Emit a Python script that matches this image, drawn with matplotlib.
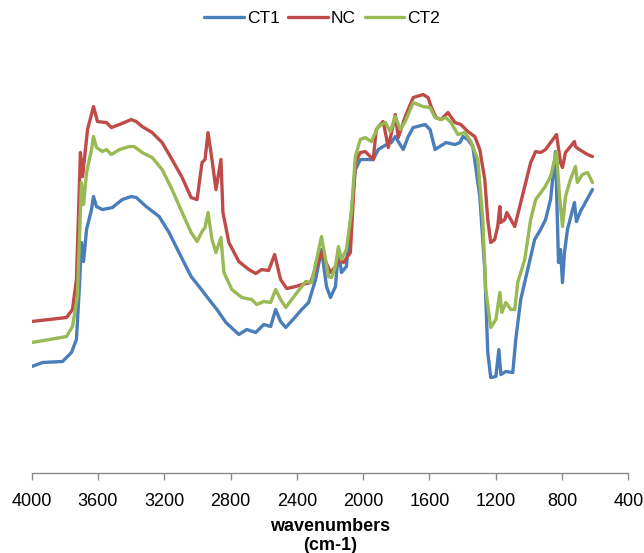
import numpy as np
import matplotlib
matplotlib.use('Agg')
import matplotlib.pyplot as plt

plt.rcParams['font.family'] = ['Liberation Sans', 'DejaVu Sans']

## spectra (wavenumber in cm-1, arbitrary transmittance units)
wn_nc = [4000, 3790, 3754, 3730, 3706, 3693, 3663, 3627, 3603, 3549, 3519, 3471, 3399, 3369,
         3333, 3273, 3213, 3153, 3092, 3038, 3002, 2972, 2954, 2936, 2912, 2888, 2858, 2846,
         2810, 2750, 2690, 2648, 2612, 2570, 2534, 2498, 2461, 2407, 2371, 2317, 2251, 2197,
         2167, 2137, 2119, 2077, 2047, 2017, 1987, 1939, 1921, 1879, 1848, 1806, 1788, 1746,
         1698, 1638, 1608, 1590, 1560, 1530, 1488, 1446, 1410, 1368, 1326, 1296, 1266, 1248,
         1230, 1206, 1188, 1175, 1169, 1145, 1133, 1109, 1085, 1055, 1025, 989, 959, 929, 899,
         869, 833, 809, 797, 779, 725, 719, 695, 646, 616]
nc = [38, 39, 41, 48.5, 80.25, 74.25, 86, 91.75, 88, 87.75, 86.5, 87.25, 88.5, 88,
      86.75, 85.25, 82.75, 78.5, 74, 69, 68.5, 77.75, 78.5, 85.25, 78.5, 71, 78.5, 65.25,
      57.75, 53, 51, 50, 51, 50.75, 54.75, 48.5, 46.25, 46.75, 47.25, 47.75, 55.25, 50.25,
      51.75, 53.5, 52.75, 55.25, 77.75, 80.25, 80.5, 78.5, 86, 88, 81.5, 89.75, 84, 89.25,
      94, 94.75, 94, 91.75, 89, 88.5, 90.25, 87.75, 87.25, 85.5, 84.25, 81, 73.5, 63.5,
      57.75, 58.5, 61.75, 66.75, 62.75, 63.5, 65.25, 63.5, 61.75, 66.75, 71.75, 77.75, 80.5, 80.25, 81,
      82.75, 84.75, 77.75, 76.5, 80.25, 83, 81.75, 81, 79.75, 79.25]

wn_ct1 = [4000, 3934, 3814, 3760, 3730, 3712, 3700, 3687, 3669, 3639, 3627, 3609, 3573, 3513,
          3453, 3399, 3369, 3309, 3231, 3171, 3099, 3038, 2990, 2930, 2882, 2828, 2750, 2702,
          2648, 2600, 2558, 2528, 2498, 2467, 2407, 2371, 2329, 2287, 2251, 2221, 2197, 2167,
          2149, 2131, 2101, 2071, 2047, 2017, 1939, 1909, 1860, 1830, 1806, 1788, 1758, 1728,
          1698, 1626, 1596, 1566, 1548, 1500, 1446, 1416, 1398, 1368, 1338, 1296, 1266, 1248,
          1230, 1199, 1181, 1169, 1139, 1097, 1079, 1049, 1007, 965, 929, 899, 869, 839, 821,
          809, 797, 785, 767, 725, 713, 689, 616]
ct1 = [26.75, 27.75, 28, 30.25, 33.5, 46.75, 57.75, 53, 61, 66, 69.25, 66.75, 66, 66.5,
       68.5, 69.25, 69, 66.75, 64.25, 60.25, 54.25, 49.25, 46.75, 43.5, 41, 37.75, 34.75, 36,
       35.25, 37.25, 36.75, 41, 38, 36.5, 39.25, 41, 42.75, 48.5, 56, 46.75, 44, 46.75,
       56, 50.25, 51.75, 65.25, 76, 78.5, 78.5, 81, 82.25, 82.75, 84.25, 83, 81, 84.25,
       86.5, 87.25, 86, 81, 81.5, 82.75, 82.25, 82.75, 84.25, 83.5, 81.75, 69.25, 51, 30.25,
       24, 24.25, 31, 24.75, 25.5, 25.25, 33.5, 43.5, 51, 58.5, 61, 63.5, 68.5, 80.5, 52.75,
       56, 47.75, 55.25, 61, 67.75, 63, 65.5, 71]

wn_ct2 = [4000, 3892, 3790, 3754, 3724, 3700, 3687, 3669, 3639, 3627, 3609, 3573, 3549, 3519,
          3471, 3411, 3381, 3333, 3273, 3213, 3153, 3092, 3038, 3002, 2972, 2954, 2936, 2912,
          2888, 2858, 2840, 2792, 2732, 2672, 2642, 2600, 2558, 2528, 2498, 2467, 2431, 2371,
          2347, 2311, 2251, 2209, 2191, 2167, 2149, 2131, 2101, 2071, 2047, 2017, 1987, 1951,
          1909, 1866, 1836, 1806, 1776, 1746, 1698, 1638, 1596, 1566, 1530, 1500, 1470, 1428,
          1386, 1350, 1308, 1278, 1260, 1230, 1199, 1175, 1163, 1139, 1109, 1085, 1067, 1025,
          989, 959, 905, 869, 833, 815, 797, 779, 749, 719, 707, 677, 646, 616]
ct2 = [32.75, 33.5, 34.25, 36.75, 44.25, 72.75, 67.25, 75.25, 81, 84.25, 81.5, 80.5, 81, 79.75,
       81, 81.75, 81.75, 80.25, 79, 76, 71, 65.25, 60.25, 58, 60.5, 61.5, 65.25, 58.5,
       55.25, 59, 50.25, 46, 44, 43.5, 42.25, 43, 42.75, 46, 43.5, 41.5, 43.5, 46.75,
       48, 47.75, 59.25, 49.25, 49, 51.75, 56.75, 53.5, 56, 65.25, 79.25, 83.5, 84, 83,
       86.75, 87.75, 85.5, 89.25, 86, 88, 92.75, 91.75, 91.5, 89, 88.5, 89, 87.75, 84.75,
       85.25, 83, 78.5, 63.5, 46, 36.5, 38.5, 45.25, 40.25, 42.75, 41, 41, 47.75, 53.5,
       63.5, 68.5, 71.5, 74.25, 80.5, 69.25, 61.75, 69.25, 73.5, 76.75, 72.75, 74.75, 75.25, 72.75]

series = [('CT1', wn_ct1, ct1, '#4A7EBB'),
          ('NC', wn_nc, nc, '#BE4B48'),
          ('CT2', wn_ct2, ct2, '#98B954')]

xticks = [4000, 3600, 3200, 2800, 2400, 2000, 1600, 1200, 800, 400]

## figure
fig = plt.figure(figsize=(6.44, 5.53), dpi=100)
ax = fig.add_axes([0.0492, 0.1438, 0.9264, 0.7767])

for name, x, y, col in series:
    ax.plot(x, y, color=col, lw=2.4, label=name, solid_joinstyle='round',
            solid_capstyle='round')

ax.set_xlim(4000, 400)
ax.set_ylim(0, 107.4)
ax.set_xticks(xticks)
ax.set_xticklabels([str(t) for t in xticks], fontsize=13)
ax.set_yticks([])
for s in ['left', 'right', 'top']:
    ax.spines[s].set_visible(False)
ax.spines['bottom'].set_color('#8c8c8c')
ax.spines['bottom'].set_linewidth(1.0)
ax.tick_params(axis='x', direction='out', length=5, width=1.0, color='#8c8c8c',
               pad=9, labelcolor='black')
ax.set_xlabel('wavenumbers\n(cm-1)', fontsize=13, fontweight='bold', labelpad=6,
              linespacing=1.1)

fig.legend(loc='center', bbox_to_anchor=(0.5, 0.967), ncol=3, frameon=False,
           fontsize=12.5, handlelength=2.3, handletextpad=0.15, columnspacing=0.5,
           borderaxespad=0)

fig.savefig('out.png', dpi=100)
